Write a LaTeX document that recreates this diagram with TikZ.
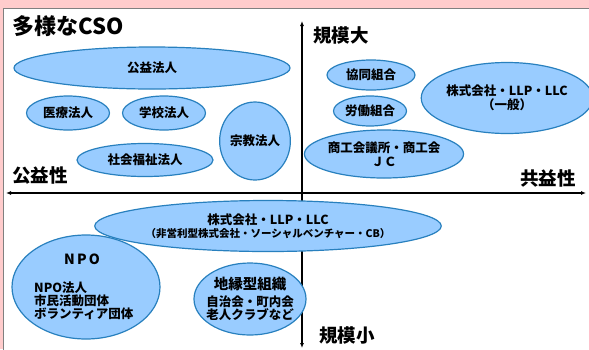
\documentclass[tikz,border=0pt]{standalone}
\usepackage{fontspec}
\newfontfamily\jp{Noto Sans CJK JP}
\usetikzlibrary{arrows.meta,%
	shapes.geometric}
\definecolor{bgpink}{RGB}{255,204,204}
\definecolor{ovfill}{RGB}{153,204,255}
\definecolor{ovline}{RGB}{40,128,190}
\tikzset{
	Oval/.style={ellipse, draw=ovline, fill=ovfill, line width=1.2pt, inner sep=0pt, font=\jp\bfseries\fontsize{12.5}{13.5}\selectfont, align=center},
	AxisLabel/.style={font=\jp\bfseries\fontsize{18.5}{18}\selectfont, inner sep=0pt},
	Axis/.style={line width=1.6pt, {Latex[length=5pt,width=4pt]}-{Latex[length=5pt,width=4pt]}}
}
\begin{document}
\begin{tikzpicture}[x=1pt, y=-1pt]
			\useasboundingbox (0,0) rectangle (589,349);
			\fill[bgpink] (0,0) rectangle (589,349);
			\draw[gray, fill=white, line width=0.8pt] (3.5,8.5) rectangle (592,352);
			\node[font=\jp\bfseries\fontsize{22}{22}\selectfont, inner sep=0pt, anchor=west] (title) at (12,26) {多様なCSO};
			% axes
			\coordinate (L) at (6,193);
			\coordinate (R) at (586,193);
			\coordinate (T) at (302,21);
			\coordinate (B) at (302,348);
			\draw[Axis] (L) -- (R);
			\draw[Axis] (B) -- (T);
			\node[AxisLabel] (big) at (341,35) {規模大};
			\node[AxisLabel] (small) at (347,335) {規模小};
			\node[AxisLabel] (pub) at (40,176) {公益性};
			\node[AxisLabel] (mut) at (548,178) {共益性};
			% upper left
			\node[Oval, minimum width=276, minimum height=42] (koeki) at (152,68) {公益法人};
			\node[Oval, minimum width=83, minimum height=34] (iryo) at (68,113) {医療法人};
			\node[Oval, minimum width=83, minimum height=34] (gakko) at (164,113) {学校法人};
			\node[Oval, minimum width=69, minimum height=78] (shukyo) at (255,141) {宗教法人};
			\node[Oval, minimum width=136, minimum height=33] (fukushi) at (145,160) {社会福祉法人};
			% upper right
			\node[Oval, minimum width=88, minimum height=30] (kyodo) at (371,75) {協同組合};
			\node[Oval, minimum width=73, minimum height=30] (rodo) at (370,111) {労働組合};
			\node[Oval, minimum width=154, minimum height=48] (shoko) at (384,154) {商工会議所・商工会\\ＪＣ};
			\node[Oval, minimum width=168, minimum height=71] (kabu1) at (507,98) {株式会社・LLP・LLC\\（一般）};
			% lower half
			\node[Oval, minimum width=306, minimum height=51] (kabu2) at (268,226) {株式会社・LLP・LLC\\{\fontsize{10.5}{11}\selectfont（非営利型株式会社・ソーシャルベンチャー・CB）}};
			\node[Oval, minimum width=148, minimum height=104] (npo) at (86,287) {};
			\node[font=\jp\bfseries\fontsize{14}{14}\selectfont, inner sep=0pt] (npot) at (82,259) {N\,P\,O};
			\node[font=\jp\bfseries\fontsize{12.5}{13}\selectfont, align=left, inner sep=0pt, anchor=west] (npol) at (34,301) {NPO法人\\市民活動団体\\ボランティア団体};
			\node[Oval, minimum width=112, minimum height=72] (chien) at (250,299) {};
			\node[font=\jp\bfseries\fontsize{14.5}{14}\selectfont, inner sep=0pt] (chient) at (250,284) {地縁型組織};
			\node[font=\jp\bfseries\fontsize{12.5}{13}\selectfont, align=center, inner sep=0pt] (chienl) at (250,308) {自治会・町内会\\老人クラブなど};
			\end{tikzpicture}
\end{document}
